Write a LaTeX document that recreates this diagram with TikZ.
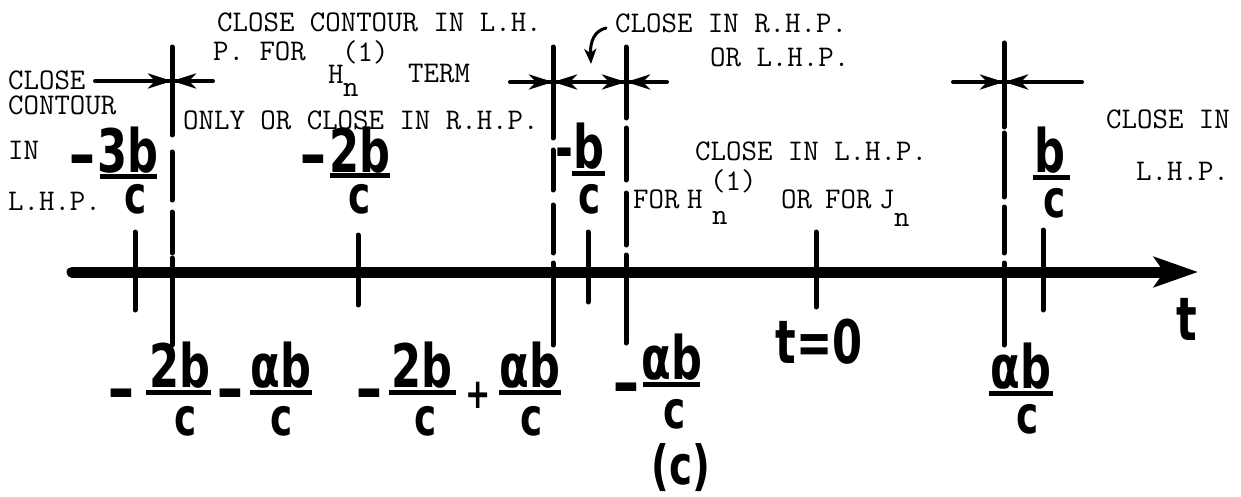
\documentclass[tikz,border=0pt]{standalone}
\usepackage{fontspec}
\usepackage{graphicx}
\newfontfamily\lettering{DejaVu Sans}[FakeStretch=0.72]
\usetikzlibrary{arrows.meta}
\newcommand{\lmin}{\scalebox{1.55}[1]{-}}
\begin{document}
\begin{tikzpicture}[x=1pt,y=-1pt,
  tw/.style={font=\ttfamily\fontsize{30}{31}\selectfont, inner sep=0pt, anchor=base west},
  lt/.style={font=\lettering\bfseries\fontsize{60}{60}\selectfont, inner sep=0pt, anchor=base},
  den/.style={font=\lettering\bfseries\fontsize{52}{52}\selectfont, inner sep=0pt, anchor=base},
  plus/.style={font=\lettering\bfseries\fontsize{42}{42}\selectfont, inner sep=0pt, anchor=base},
  tickline/.style={line width=5pt, line cap=round},
  dashline/.style={line width=5pt, line cap=round},
  barline/.style={line width=5pt},
  hline/.style={line width=4pt, line cap=round},
  tipline/.style={line width=4pt, -{Stealth[length=24pt,width=15pt,inset=7pt]}}
]
\useasboundingbox (0,0) rectangle (1241,497);

% ---------- axis ----------
\coordinate (axL) at (72,272);
\coordinate (axR) at (1198,272);
\draw[line width=11pt, line cap=round, -{Stealth[length=44pt,width=30pt,inset=10pt]}] (axL) -- (axR);

% ---------- ticks ----------
\foreach \x/\a/\b in {135/232/310, 358/235/305, 588/232/302, 816/232/307, 1043/230/310}
  \draw[tickline] (\x,\a) -- (\x,\b);

% ---------- dashed verticals ----------
\foreach \x/\a/\b/\c/\d/\e/\f/\g/\h in {
  172/47/135/152/200/212/253/258/345,
  553/47/138/150/190/205/253/263/345,
  626/47/118/128/180/193/245/255/343,
  1004/43/127/133/197/207/253/263/345}
{
  \draw[dashline] (\x,\a) -- (\x,\b);
  \draw[dashline] (\x,\c) -- (\x,\d);
  \draw[dashline] (\x,\e) -- (\x,\f);
  \draw[dashline] (\x,\g) -- (\x,\h);
}

% ---------- horizontal arrow bars ----------
\coordinate (h1a) at (95,81);  \coordinate (h1b) at (213,81);  \coordinate (h1x) at (172,81);
\draw[hline] (h1a) -- (h1b);
\draw[tipline] (145,81) -- (h1x);
\draw[tipline] (198,81) -- (h1x);

\coordinate (h2a) at (510,82); \coordinate (h2b) at (667,82);
\coordinate (h2x) at (553,82); \coordinate (h2y) at (626,82);
\draw[hline] (h2a) -- (h2b);
\draw[tipline] (526,82) -- (h2x);
\draw[tipline] (580,82) -- (h2x);
\draw[tipline] (603,82) -- (h2y);
\draw[tipline] (650,82) -- (h2y);

\coordinate (h3a) at (953,82); \coordinate (h3b) at (1082,82); \coordinate (h3x) at (1004,82);
\draw[hline] (h3a) -- (h3b);
\draw[tipline] (977,82) -- (h3x);
\draw[tipline] (1031,82) -- (h3x);

% curved pointer
\coordinate (cs) at (606,28);
\coordinate (ce) at (591,64);
\draw[line width=3pt, line cap=round, -{Stealth[length=15pt,width=12pt,inset=4pt]}]
  (cs) .. controls (594,31) and (590,42) .. (ce);

% ---------- typewriter labels ----------
\node[tw] (t1) at (217,32) {CLOSE CONTOUR IN L.H.};
\node[tw] (t2) at (213,61) {P. FOR};
\node[tw] (t2h) at (328,84) {H};
\node[tw] (t2s) at (342,62) {(1)};
\node[tw] (t2n) at (343,97) {n};
\node[tw] (t2t) at (408,83) {TERM};
\node[tw] (t3) at (183,130) {ONLY OR CLOSE IN R.H.P.};
\node[tw] (t4) at (615,33) {CLOSE IN R.H.P.};
\node[tw] (t5) at (710,67) {OR L.H.P.};
\node[tw] (l1) at (8,90) {CLOSE};
\node[tw] (l2) at (8,115) {CONTOUR};
\node[tw] (l3) at (8,160) {IN};
\node[tw] (l4) at (8,211) {L.H.P.};
\node[tw] (m1) at (695,161) {CLOSE IN L.H.P.};
\node[tw] (m2) at (633,208) {FOR};
\node[tw] (m2h) at (687,208) {H};
\node[tw] (m2s) at (710,190) {(1)};
\node[tw] (m2n) at (712,224) {n};
\node[tw] (m2o) at (781,208) {OR};
\node[tw] (m2f) at (825,208) {FOR};
\node[tw] (m2j) at (879,208) {J};
\node[tw] (m2jn) at (894,226) {n};
\node[tw] (r1) at (1106,129) {CLOSE IN};
\node[tw] (r2) at (1136,180) {L.H.P.};

% ---------- lettering: top fractions ----------
\node[lt] (a1m) at (82,176) {\lmin};
\node[lt] (a1n) at (128,172) {3b};
\node[den] (a1d) at (136,213) {c};
\draw[barline] (100,177) -- (157,177);

\node[lt] (a2m) at (313,177) {\lmin};
\node[lt] (a2n) at (360,172) {2b};
\node[den] (a2d) at (360,213) {c};
\draw[barline] (330,176) -- (390,176);

\node[lt] (a3m) at (564,170) {-};
\node[lt] (a3n) at (589,168) {b};
\node[den] (a3d) at (590,213) {c};
\draw[barline] (572,174) -- (605,174);

\node[lt] (a4n) at (1050,173) {b};
\node[den] (a4d) at (1055,217) {c};
\draw[barline] (1033,178) -- (1070,178);

% ---------- lettering: bottom fractions ----------
\node[lt] (b1m) at (121,410) {\lmin};
\node[lt] (b1n) at (180,387) {2b};
\node[den] (b1d) at (186,435) {c};
\draw[barline] (146,392) -- (211,392);
\node[lt] (b2m) at (230,410) {\lmin};
\node[lt] (b2n) at (281,387) {αb};
\node[den] (b2d) at (282,435) {c};
\draw[barline] (250,392) -- (312,392);

\node[lt] (b3m) at (369,410) {\lmin};
\node[lt] (b3n) at (422,387) {2b};
\node[den] (b3d) at (426,435) {c};
\draw[barline] (389,392) -- (456,392);
\node[plus] (b3p) at (478,408) {+};
\node[lt] (b4n) at (530,387) {αb};
\node[den] (b4d) at (532,435) {c};
\draw[barline] (499,392) -- (561,392);

\node[lt] (b5m) at (626,404) {\lmin};
\node[lt] (b5n) at (672,379) {αb};
\node[den] (b5d) at (675,428) {c};
\draw[barline] (643,384) -- (700,384);

\node[lt] (t0) at (819,363) {t=0};

\node[lt] (b6n) at (1021,388) {αb};
\node[den] (b6d) at (1028,433) {c};
\draw[barline] (989,393) -- (1053,393);

\node[lt] (tl) at (1187,340) {t};
\node[lt, font=\lettering\bfseries\fontsize{54}{54}\selectfont] (cap) at (681,484) {(c)};
\end{tikzpicture}
\end{document}
